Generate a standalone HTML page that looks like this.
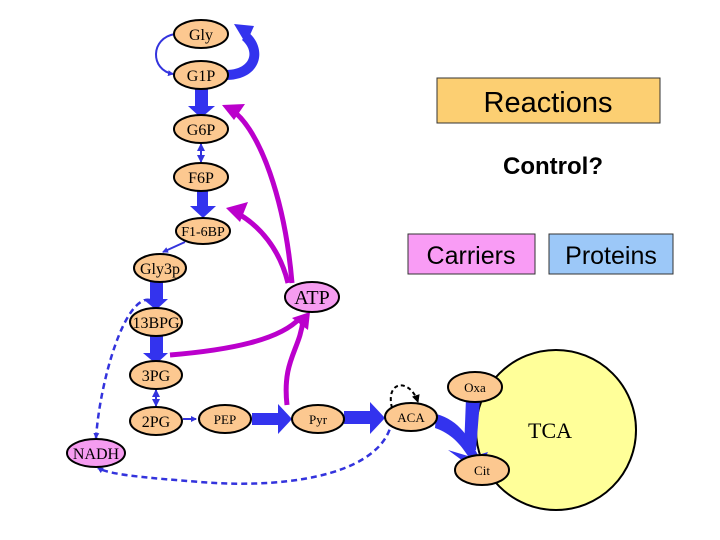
<!DOCTYPE html>
<html><head><meta charset="utf-8"><style>body{margin:0;background:#fff}svg{display:block}</style></head><body>
<svg width="720" height="540" viewBox="0 0 720 540" xmlns="http://www.w3.org/2000/svg" font-family="Liberation Serif, serif">
<defs>
<marker id="ab" markerWidth="6" markerHeight="6" refX="5" refY="3" orient="auto" markerUnits="userSpaceOnUse"><path d="M0,0 L6,3 L0,6z" fill="#3333dd"/></marker>
<marker id="ab2" markerWidth="8" markerHeight="8" refX="7" refY="4" orient="auto-start-reverse" markerUnits="userSpaceOnUse"><path d="M0,0 L8,4 L0,8z" fill="#3333dd"/></marker>
<marker id="ak" markerWidth="8" markerHeight="8" refX="7" refY="4" orient="auto" markerUnits="userSpaceOnUse"><path d="M0,0 L8,4 L0,8z" fill="#000"/></marker>
</defs>
<rect x="437" y="78" width="223" height="45" fill="#fccf72" stroke="#333" stroke-width="1"/>
<text x="548" y="112" font-family="Liberation Sans, sans-serif" font-size="29" text-anchor="middle">Reactions</text>
<text x="553" y="174" font-family="Liberation Sans, sans-serif" font-size="24" font-weight="bold" text-anchor="middle">Control?</text>
<rect x="408" y="234" width="127" height="40" fill="#f99cf5" stroke="#333"/>
<text x="471" y="264" font-family="Liberation Sans, sans-serif" font-size="25" text-anchor="middle">Carriers</text>
<rect x="549" y="234" width="124" height="40" fill="#9cc8f8" stroke="#333"/>
<text x="611" y="264" font-family="Liberation Sans, sans-serif" font-size="25" text-anchor="middle">Proteins</text>
<circle cx="556" cy="430" r="80" fill="#ffff99" stroke="#000" stroke-width="2"/>
<text x="550" y="438" font-size="22" text-anchor="middle">TCA</text>
<g fill="#3333ee">
<path d="M226,80 C262,80 268,48 248,32 L242,40 C256,52 250,70 226,70z"/>
<path d="M234,24 L254,26 L246,44z"/>
<rect x="195" y="88" width="13" height="20"/><path d="M188,106 L215,106 L201,118z"/>
<rect x="197" y="190" width="11" height="18"/><path d="M190,206 L216,206 L203,218z"/>
<rect x="150" y="281" width="13" height="20"/><path d="M143,299 L168,299 L156,310z"/>
<rect x="150" y="335" width="13" height="20"/><path d="M143,353 L168,353 L156,364z"/>
<rect x="252" y="413" width="28" height="12"/><path d="M278,404 L292,419 L278,434z"/>
<rect x="344" y="411" width="28" height="13"/><path d="M370,402 L385,418 L370,434z"/>
<path d="M436,414 C460,420 470,440 478,455 L488,452 L478,472 L448,450 L468,456 C460,444 452,434 435,428z"/>
<path d="M466,398 L480,400 L476,450 L464,450z"/>
</g>
<path d="M175,34 C150,38 150,70 173,74" fill="none" stroke="#3333dd" stroke-width="2" marker-end="url(#ab)"/>
<line x1="201" y1="144" x2="201" y2="162" stroke="#3333dd" stroke-width="2" marker-start="url(#ab2)" marker-end="url(#ab2)"/>
<line x1="185" y1="242" x2="163" y2="252" stroke="#3333dd" stroke-width="2" marker-end="url(#ab)"/>
<line x1="156" y1="390" x2="156" y2="406" stroke="#3333dd" stroke-width="2" marker-start="url(#ab2)" marker-end="url(#ab2)"/>
<line x1="183" y1="419" x2="196" y2="419" stroke="#3333dd" stroke-width="2" marker-end="url(#ab)"/>
<path d="M150,300 C125,295 100,380 96,438" fill="none" stroke="#3333dd" stroke-width="2.5" stroke-dasharray="6,4" marker-end="url(#ab)"/>
<path d="M392,420 C385,470 300,490 200,482 C150,478 110,475 98,468" fill="none" stroke="#3333dd" stroke-width="2.5" stroke-dasharray="6,4" marker-end="url(#ab)"/>
<path d="M392,408 C385,380 410,378 418,402" fill="none" stroke="#000" stroke-width="2" stroke-dasharray="4,3" marker-end="url(#ak)"/>
<g fill="none" stroke="#bb00cc" stroke-width="5">
<path d="M292,283 C285,200 260,130 232,110"/>
<path d="M288,283 C280,250 260,225 235,212"/>
<path d="M170,355 C230,350 280,340 300,318"/>
<path d="M287,405 C282,360 300,350 303,320"/>
</g>
<g fill="#bb00cc">
<path d="M222,105 L245,104 L234,120z"/>
<path d="M226,208 L248,202 L240,222z"/>
<path d="M292,318 L310,312 L308,330z"/>
</g>
<g stroke="#000" stroke-width="2" fill="#fcc890">
<ellipse cx="201" cy="34" rx="27" ry="14"/>
<ellipse cx="201" cy="75" rx="27" ry="14"/>
<ellipse cx="201" cy="129" rx="27" ry="14"/>
<ellipse cx="201" cy="177" rx="27" ry="14"/>
<ellipse cx="203" cy="231" rx="27" ry="13"/>
<ellipse cx="160" cy="268" rx="26" ry="14"/>
<ellipse cx="156" cy="322" rx="26" ry="14"/>
<ellipse cx="156" cy="375" rx="26" ry="14"/>
<ellipse cx="156" cy="421" rx="26" ry="14"/>
<ellipse cx="225" cy="419" rx="26" ry="14"/>
<ellipse cx="318" cy="419" rx="26" ry="14"/>
<ellipse cx="411" cy="417" rx="26" ry="14"/>
<ellipse cx="475" cy="387" rx="27" ry="15"/>
<ellipse cx="482" cy="470" rx="27" ry="15"/>
</g>
<g stroke="#000" stroke-width="2" fill="#f59cf0">
<ellipse cx="312" cy="297" rx="27" ry="15"/>
<ellipse cx="96" cy="453" rx="29" ry="14"/>
</g>
<g font-size="16" text-anchor="middle">
<text x="201" y="40">Gly</text>
<text x="201" y="81">G1P</text>
<text x="201" y="135">G6P</text>
<text x="201" y="183">F6P</text>
<text x="203" y="236" font-size="14">F1-6BP</text>
<text x="160" y="274">Gly3p</text>
<text x="156" y="328">13BPG</text>
<text x="156" y="381">3PG</text>
<text x="156" y="427">2PG</text>
<text x="225" y="424" font-size="13">PEP</text>
<text x="318" y="424" font-size="13">Pyr</text>
<text x="411" y="422" font-size="13">ACA</text>
<text x="475" y="392" font-size="13">Oxa</text>
<text x="482" y="475" font-size="13">Cit</text>
<text x="312" y="304" font-size="20">ATP</text>
<text x="96" y="459">NADH</text>
</g>
</svg>
</body></html>
